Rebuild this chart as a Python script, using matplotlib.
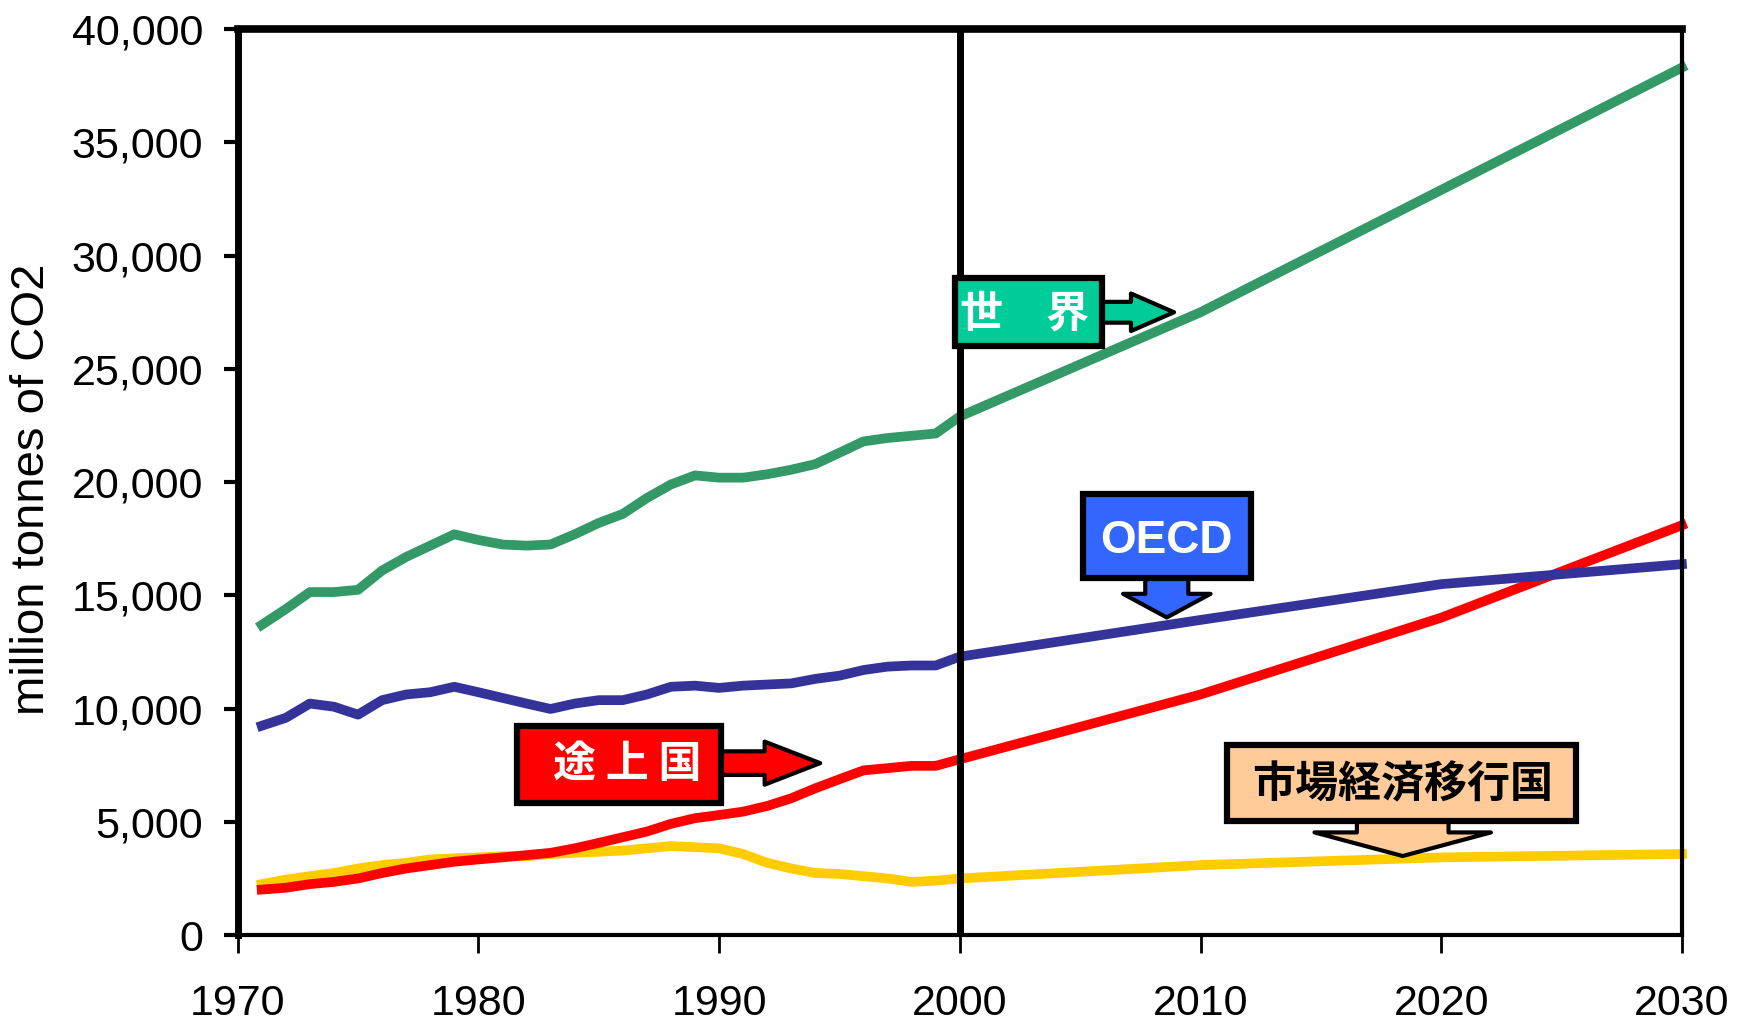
import matplotlib
matplotlib.use("Agg")
import matplotlib.pyplot as plt
from matplotlib.patches import Rectangle
from matplotlib.ticker import FuncFormatter

# 実績 1971-2000 と見通し 2010, 2020, 2030
years = [1971, 1972, 1973, 1974, 1975, 1976, 1977, 1978, 1979, 1980,
         1981, 1982, 1983, 1984, 1985, 1986, 1987, 1988, 1989, 1990,
         1991, 1992, 1993, 1994, 1995, 1996, 1997, 1998, 1999, 2000,
         2010, 2020, 2030]

world = [13700, 14400, 15150, 15150, 15250, 16100, 16700, 17200, 17700, 17450,
         17250, 17200, 17250, 17700, 18200, 18600, 19300, 19900, 20300, 20200,
         20200, 20350, 20550, 20800, 21300, 21800, 21950, 22050, 22150, 22900,
         27500, 32900, 38300]

oecd = [9250, 9600, 10230, 10090, 9740, 10380, 10630, 10730, 10970, 10730,
        10480, 10230, 9990, 10230, 10380, 10380, 10630, 10970, 11020, 10920,
        11020, 11070, 11120, 11320, 11460, 11710, 11860, 11910, 11910, 12300,
        13920, 15500, 16380]

developing = [2020, 2100, 2260, 2360, 2510, 2750, 2950, 3100, 3250, 3350,
              3440, 3540, 3640, 3840, 4080, 4330, 4580, 4920, 5170, 5310,
              5460, 5710, 6050, 6490, 6890, 7280, 7380, 7480, 7480, 7770,
              10630, 14020, 18100]

transition = [2260, 2460, 2610, 2750, 2950, 3100, 3200, 3350, 3400, 3440,
              3490, 3490, 3590, 3640, 3690, 3740, 3840, 3940, 3890, 3840,
              3590, 3200, 2950, 2750, 2710, 2610, 2510, 2360, 2410, 2510,
              3100, 3440, 3590]

xticks = [1970, 1980, 1990, 2000, 2010, 2020, 2030]
yticks = [0, 5000, 10000, 15000, 20000, 25000, 30000, 35000, 40000]

latin = ["Liberation Sans", "DejaVu Sans"]
cjk = ["Noto Sans CJK JP", "DejaVu Sans"]

fig = plt.figure(figsize=(17.5, 10.23), dpi=100)
ax = fig.add_axes([0.1358, 0.0857, 0.8253, 0.8859])

ax.plot(years, transition, color="#FFCC00", lw=7, zorder=2, clip_on=False)
ax.plot(years, developing, color="#FF0000", lw=7, zorder=2.1, clip_on=False)
ax.plot(years, oecd, color="#333399", lw=7, zorder=2.2, clip_on=False)
ax.plot(years, world, color="#339966", lw=7, zorder=2.3, clip_on=False)

ax.axvline(2000, color="black", lw=5, zorder=3)

ax.set_xlim(1970, 2030)
ax.set_ylim(0, 40000)
ax.set_xticks(xticks)
ax.set_yticks(yticks)
ax.yaxis.set_major_formatter(FuncFormatter(lambda v, p: f"{v:,.0f}"))
ax.tick_params(axis="y", direction="out", length=10, width=3, pad=15)
ax.tick_params(axis="x", direction="out", length=13, width=2, pad=22)
for lab in ax.get_xticklabels() + ax.get_yticklabels():
    lab.set_family(latin)
    lab.set_fontsize(31)

ax.spines["left"].set_linewidth(5)
ax.spines["top"].set_linewidth(5.5)
ax.spines["right"].set_linewidth(3)
ax.spines["bottom"].set_linewidth(3)

fig.text(0.0183, 0.522, "million tonnes of CO2", rotation=90, ha="center",
         va="center", fontsize=34, family=latin)


def callout(x0, x1, y0, y1, label, fc, tc, tx, ty, start, tip, style, fsize, fam):
    ax.annotate("", xy=tip, xytext=start,
                arrowprops=dict(arrowstyle=style, fc=fc, ec="black", lw=3,
                                mutation_scale=1, shrinkA=0, shrinkB=0),
                zorder=4)
    ax.add_patch(Rectangle((x0, y0), x1 - x0, y1 - y0, fc=fc, ec="black",
                           lw=4.5, zorder=5))
    ax.text(tx, ty, label, color=tc, fontsize=fsize, fontweight="bold",
            family=fam, ha="center", va="center", zorder=6)


callout(1999.8, 2005.9, 26030, 29030, "世　界", "#00CC99", "white",
        2002.7, 27450, (2005.9, 27500), (2008.9, 27500),
        "simple,head_length=31,head_width=27,tail_width=15", 31, cjk)
callout(2005.1, 2012.1, 15790, 19500, "OECD", "#3366FF", "white",
        2008.6, 17400, (2008.6, 15790), (2008.6, 14030),
        "simple,head_length=17,head_width=63,tail_width=31", 33, latin)
callout(1981.6, 1990.1, 5860, 9260, "途 上 国", "#FF0000", "white",
        1986.2, 7560, (1990.1, 7600), (1994.2, 7600),
        "simple,head_length=40,head_width=31,tail_width=17", 31, cjk)
callout(2011.1, 2025.6, 5040, 8390, "市場経済移行国", "#FFCC99", "black",
        2018.4, 6650, (2018.4, 5040), (2018.4, 3500),
        "simple,head_length=17,head_width=127,tail_width=66", 31, cjk)

fig.savefig("out.png", dpi=100)
